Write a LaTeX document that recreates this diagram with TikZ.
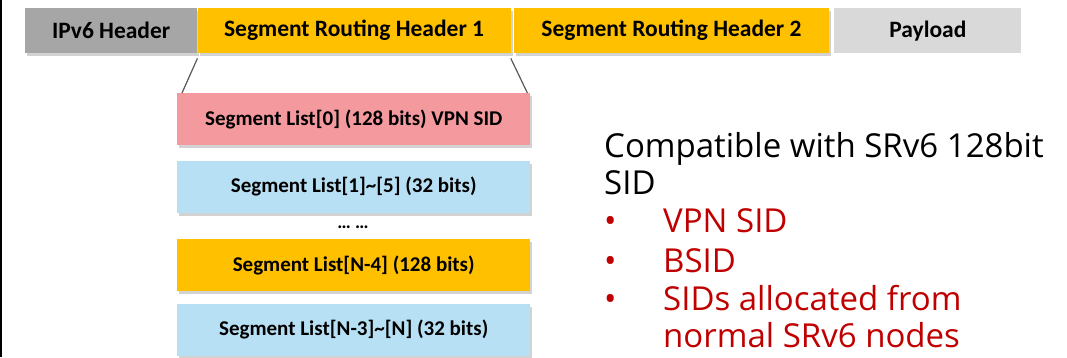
\documentclass[tikz,border=0pt]{standalone}
\usepackage{fontspec}
\setmainfont{Carlito}
\newfontfamily\notefont{Open Sans}
\usetikzlibrary{shadows,positioning}
\definecolor{hdrgray}{HTML}{A6A6A6}
\definecolor{paygray}{HTML}{D9D9D9}
\definecolor{srhgold}{HTML}{FFC000}
\definecolor{sidpink}{HTML}{F4999D}
\definecolor{sidblue}{HTML}{B8E0F4}
\definecolor{notered}{HTML}{C00000}
\tikzstyle{hdr}=[rectangle,inner sep=0pt,minimum height=45pt,
  font=\fontsize{23.5}{26}\selectfont\bfseries,
  drop shadow={opacity=.35,shadow xshift=2pt,shadow yshift=-3pt}]
\tikzstyle{seg}=[rectangle,inner sep=0pt,minimum width=353pt,minimum height=52pt,
  font=\fontsize{21}{24}\selectfont\bfseries,
  drop shadow={opacity=.35,shadow xshift=2pt,shadow yshift=-3pt}]
\tikzstyle{zoomline}=[draw=black!65,line width=1.2pt]
\tikzstyle{note}=[anchor=base west,inner sep=0pt,font=\notefont\fontsize{33}{38}\selectfont]
\tikzstyle{item}=[note,text=notered]

\begin{document}
\begin{tikzpicture}[x=1pt,y=-1pt]
  \useasboundingbox (0,0) rectangle (1067,357);
  \fill[white] (0,0) rectangle (1067,357);
  \draw[line width=1.6pt] (0.8,0) -- (0.8,357);

	\node[hdr,fill=hdrgray,minimum width=172pt,anchor=north west] (ipv6) at (25,8) {IPv6 Header};
	\node[hdr,fill=srhgold,minimum width=313pt] (srh1) [right=0pt of ipv6] {Segment Routing Header 1};
	\node[hdr,fill=srhgold,minimum width=315pt] (srh2) [right=3pt of srh1] {Segment Routing Header 2};
	\node[rectangle,fill=paygray,inner sep=0pt,minimum width=187pt,minimum height=45pt,
	  font=\fontsize{23.5}{26}\selectfont\bfseries] (pay) [right=5pt of srh2] {Payload};

	\node[seg,fill=sidpink,anchor=north west] (seg0) at (177,93) {Segment List[0] (128 bits) VPN SID};
	\node[seg,fill=sidblue] (seg1) [below=15pt of seg0] {Segment List[1]\textasciitilde[5] (32 bits)};
	\node[font=\fontsize{19}{22}\selectfont\bfseries] (dots) at (353,227) {\dots\ \dots};
	\node[seg,fill=srhgold,anchor=north west] (segn4) at (177,239) {Segment List[N-4] (128 bits)};
	\node[seg,fill=sidblue] (segn3) [below=12pt of segn4] {Segment List[N-3]\textasciitilde[N] (32 bits)};

  \path[zoomline] ([yshift=-5pt]srh1.south west) edge ([xshift=5pt]seg0.north west);
  \path[zoomline] ([yshift=-5pt]srh1.south east) edge ([xshift=-3pt]seg0.north east);

	% right hand notes
	\node[note] (note1) at (604,157) {Compatible with SRv6 128bit};
	\node[note] (note2) at (604,194) {SID};
	\node[item] (b1) at (604,232) {\textbullet};
	\node[item] (i1) at (663,232) {VPN SID};
	\node[item] (b2) at (604,272) {\textbullet};
	\node[item] (i2) at (663,272) {BSID};
	\node[item] (b3) at (604,310) {\textbullet};
	\node[item] (i3) at (663,310) {SIDs allocated from};
	\node[item] (i4) at (663,347) {normal SRv6 nodes};
\end{tikzpicture}
\end{document}
